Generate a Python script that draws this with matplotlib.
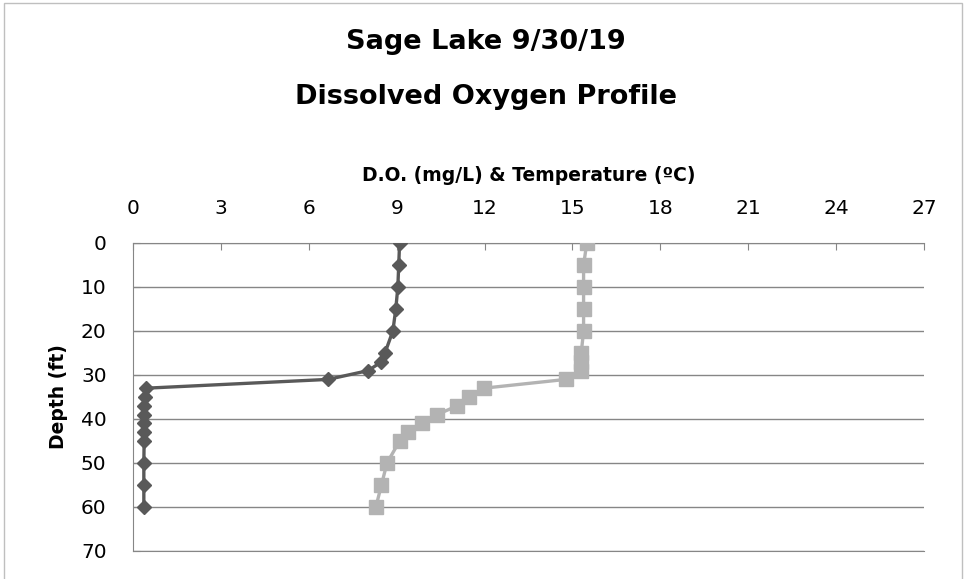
import matplotlib.pyplot as plt
from matplotlib.patches import Rectangle

# depth profile, Sage Lake 9/30/19
depth = [0, 5, 10, 15, 20, 25, 27, 29, 31, 33, 35, 37, 39, 41, 43, 45, 50, 55, 60]
dissolved_oxygen = [9.1, 9.07, 9.04, 8.97, 8.87, 8.6, 8.48, 8.03, 6.66, 0.44,
                    0.4, 0.39, 0.39, 0.38, 0.38, 0.38, 0.37, 0.37, 0.37]
temperature = [15.49, 15.38, 15.38, 15.38, 15.38, 15.3, 15.3, 15.3, 14.78, 11.97,
               11.47, 11.07, 10.38, 9.88, 9.39, 9.1, 8.67, 8.48, 8.29]
x_ticks = [0, 3, 6, 9, 12, 15, 18, 21, 24, 27]
y_ticks = [0, 10, 20, 30, 40, 50, 60, 70]

plt.rcParams['font.family'] = ['DejaVu Sans']

fig = plt.figure(figsize=(9.67, 5.79), dpi=100)
ax = fig.add_axes([133 / 967, 1 - 551 / 579, (924 - 133) / 967, (551 - 243) / 579])

# outer chart frame
fig.patches.append(Rectangle((4 / 967, -0.1), 958 / 967, 1.1 - 3 / 579,
                             transform=fig.transFigure, fill=False,
                             edgecolor='#bfbfbf', linewidth=1))

ax.plot(dissolved_oxygen, depth, color='#595959', marker='D', markersize=6.8,
        linewidth=2.4, zorder=3)
ax.plot(temperature, depth, color='#b3b3b3', marker='s', markersize=9.5,
        linewidth=2.4, zorder=3)

ax.set_xlim(0, 27)
ax.set_ylim(70, 0)
ax.set_xticks(x_ticks)
ax.set_yticks(y_ticks)
ax.xaxis.tick_top()
ax.xaxis.set_label_position('top')
ax.tick_params(axis='both', direction='in', length=5, color='#868686',
               labelsize=14.5)
ax.tick_params(axis='x', pad=18)
ax.tick_params(axis='y', pad=19)

ax.grid(axis='y', color='#868686', linewidth=1)
ax.set_axisbelow(True)
ax.spines['right'].set_visible(False)
for side in ['left', 'top', 'bottom']:
    ax.spines[side].set_color('#868686')

ax.set_xlabel('D.O. (mg/L) & Temperature (ºC)', fontsize=13.5,
              fontweight='bold', labelpad=13)
ax.set_ylabel('Depth (ft)', fontsize=13.5, fontweight='bold', labelpad=9)

fig.text(486 / 967, 1 - 42 / 579, 'Sage Lake 9/30/19', ha='center',
         va='center', fontsize=19.5, fontweight='bold')
fig.text(486 / 967, 1 - 97 / 579, 'Dissolved Oxygen Profile', ha='center',
         va='center', fontsize=19.5, fontweight='bold')

fig.savefig('out.png', dpi=100)
